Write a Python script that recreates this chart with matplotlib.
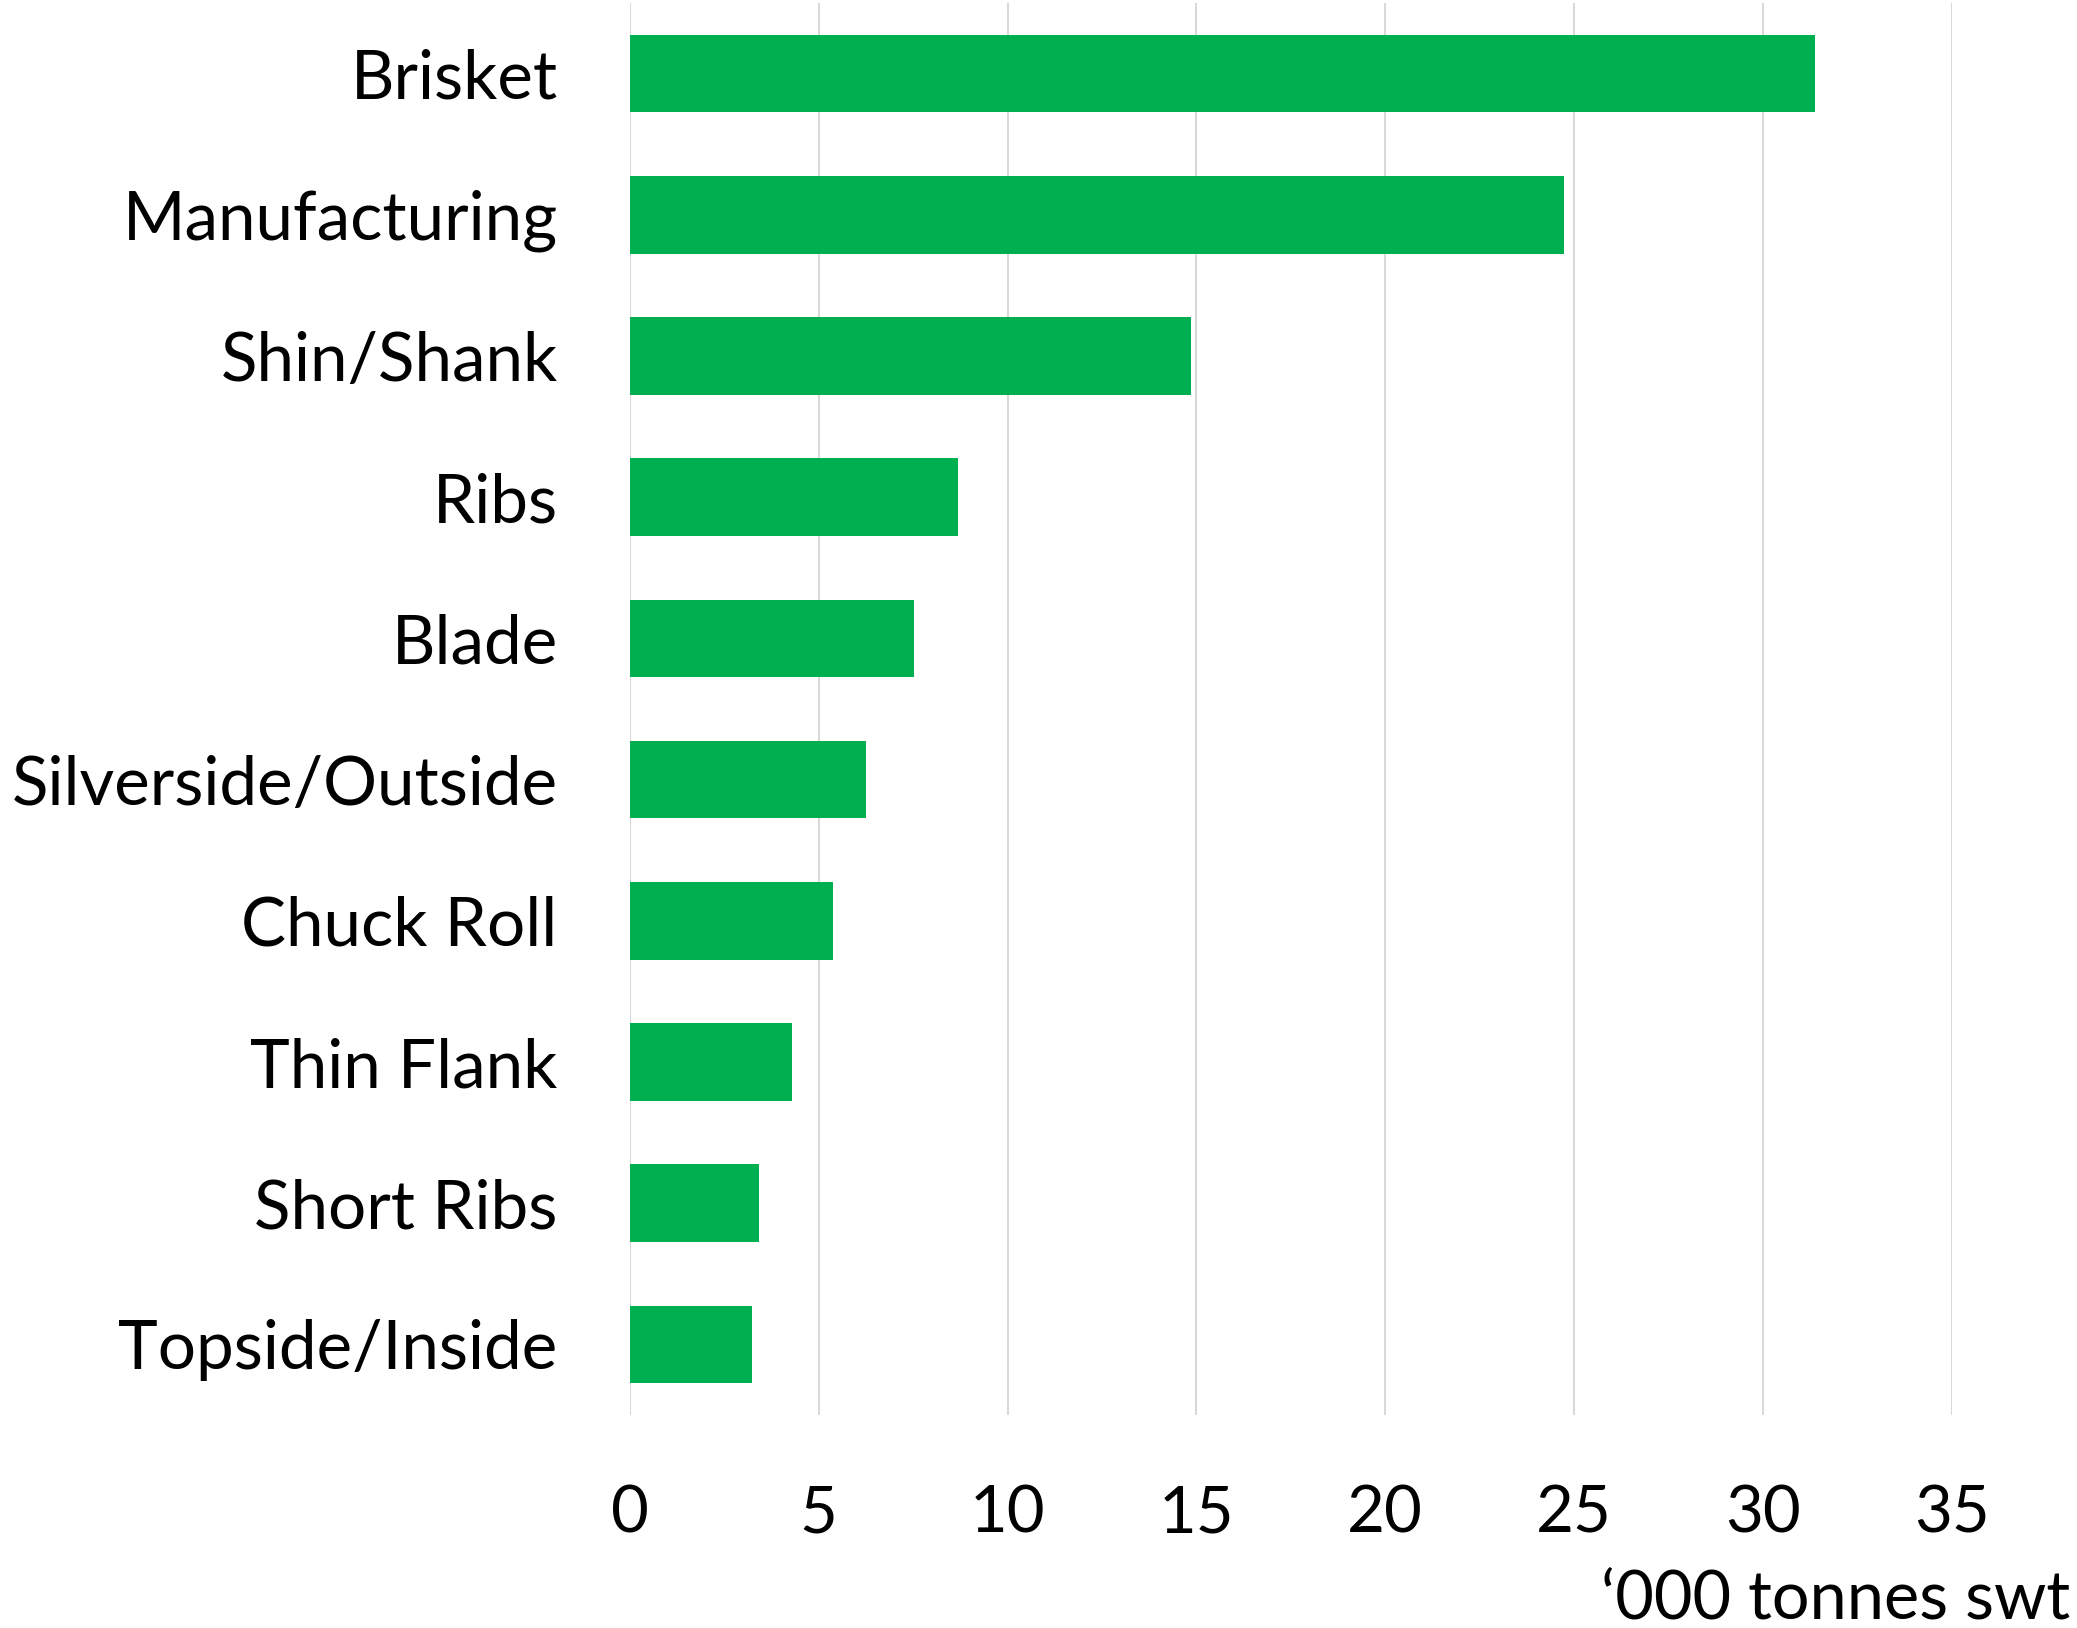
import matplotlib
matplotlib.use("Agg")
import matplotlib.pyplot as plt

# Beef cut volumes, '000 tonnes swt
cuts = ['Brisket', 'Manufacturing', 'Shin/Shank', 'Ribs', 'Blade',
        'Silverside/Outside', 'Chuck Roll', 'Thin Flank', 'Short Ribs',
        'Topside/Inside']
volumes = [31.38, 24.73, 14.85, 8.68, 7.52, 6.26, 5.38, 4.29, 3.41, 3.23]
x_ticks = [0, 5, 10, 15, 20, 25, 30, 35]

plt.rcParams['font.family'] = ['Lato', 'DejaVu Sans']

fig = plt.figure(figsize=(20.77, 16.28), dpi=100)
ax = fig.add_axes([0.3033, 0.1308, 0.6364, 0.8674])

ax.barh(cuts, volumes, height=0.55, color='#00b050', zorder=3)
ax.set_ylim(9.5, -0.5)
ax.set_xlim(0, 35)
ax.set_xticks(x_ticks)

# light vertical gridlines only
ax.grid(axis='x', color='#d9d9d9', linewidth=1.5, zorder=0)
ax.grid(axis='y', visible=False)
for s in ax.spines.values():
    s.set_visible(False)

ax.tick_params(axis='both', length=0, labelsize=47)
ax.tick_params(axis='y', pad=52, labelsize=48.5)
ax.tick_params(axis='x', pad=50)

ax.set_xlabel('\u2018000 tonnes swt', fontsize=48, ha='right')
ax.xaxis.set_label_coords(1.0895, -0.1085)

fig.savefig('out.png', dpi=100, facecolor='white')
